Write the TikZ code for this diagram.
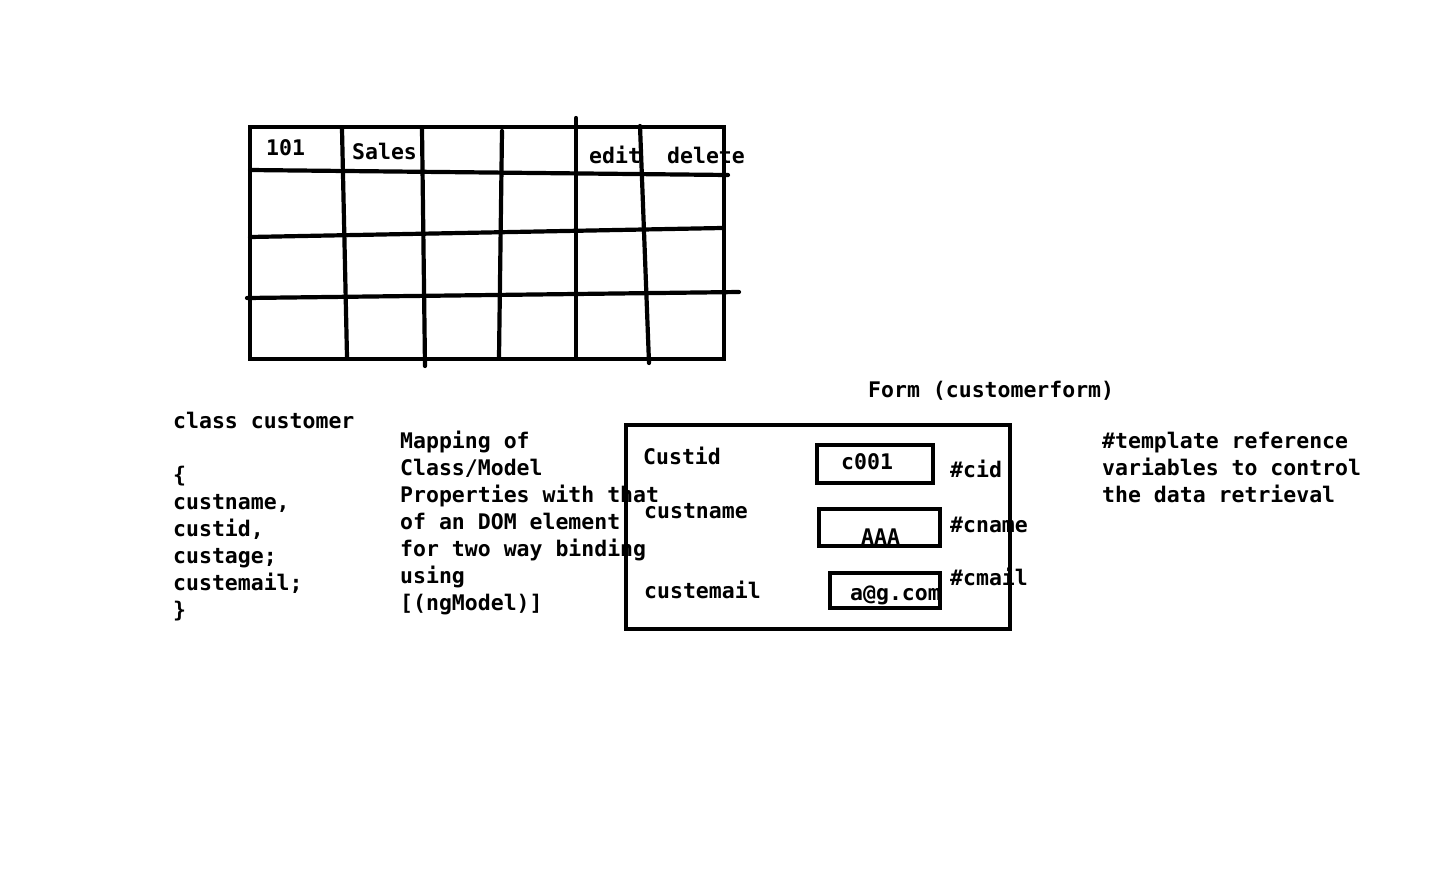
\documentclass[tikz,border=0pt]{standalone}
\usepackage{fontspec}
\setmonofont{DejaVu Sans Mono}
\begin{document}
\begin{tikzpicture}[x=1pt,y=-1pt,
  txt/.style={font=\ttfamily\bfseries\fontsize{21.5}{27}\selectfont, inner sep=0pt, anchor=base west, align=left},
  ln/.style={line width=4.2pt, line cap=round},
  bx/.style={line width=4.2pt}]
\useasboundingbox[fill=white] (0,0) rectangle (1450,868);
% table
\draw[bx] (250,127) rectangle (724,359);
\coordinate (h1a) at (250,170); \coordinate (h1b) at (728,175);
\coordinate (h2a) at (250,237); \coordinate (h2b) at (722,228);
\coordinate (h3a) at (247,298); \coordinate (h3b) at (739,292);
\draw[ln] (h1a) -- (h1b);
\draw[ln] (h2a) -- (h2b);
\draw[ln] (h3a) -- (h3b);
\coordinate (v1a) at (342,129); \coordinate (v1b) at (347,357);
\coordinate (v2a) at (422,129); \coordinate (v2b) at (425,366);
\coordinate (v3a) at (502,131); \coordinate (v3b) at (499,357);
\coordinate (v4a) at (576,118); \coordinate (v4b) at (576,357);
\coordinate (v5a) at (640,126); \coordinate (v5b) at (649,363);
\draw[ln] (v1a) -- (v1b);
\draw[ln] (v2a) -- (v2b);
\draw[ln] (v3a) -- (v3b);
\draw[ln] (v4a) -- (v4b);
\draw[ln] (v5a) -- (v5b);
\node[txt] (t101) at (266,155) {101};
\node[txt] (tsales) at (352,159) {Sales};
\node[txt] (tedit) at (589,163) {edit};
\node[txt] (tdel) at (667,163) {delete};
% class text
\node[txt, anchor=north west] (cls) at (173,412) {class customer\\[27pt]\{\\custname,\\custid,\\custage;\\custemail;\\\}};
% mapping
\node[txt, anchor=north west] (map) at (400,431) {Mapping of\\Class/Model\\Properties with that\\of an DOM element\\for two way binding\\using\\{[}(ngModel){]}};
% template
\node[txt, anchor=north west] (tpl) at (1102,432) {\#template reference\\variables to control\\the data retrieval};
% form
\node[txt] (flabel) at (868,397) {Form (customerform)};
\draw[bx] (626,425) rectangle (1010,629);
\draw[bx] (817,445) rectangle (933,483);
\draw[bx] (819,509) rectangle (940,546);
\draw[bx] (830,573) rectangle (940,608);
\node[txt] (lcid) at (643,464) {Custid};
\node[txt] (vcid) at (841,469) {c001};
\node[txt] (hcid) at (950,477) {\#cid};
\node[txt] (lname) at (644,518) {custname};
\node[txt] (vname) at (861,544) {AAA};
\node[txt] (hname) at (950,532) {\#cname};
\node[txt] (lmail) at (644,598) {custemail};
\node[txt] (vmail) at (850,600) {a@g.com};
\node[txt] (hmail) at (950,585) {\#cmail};
\end{tikzpicture}
\end{document}
